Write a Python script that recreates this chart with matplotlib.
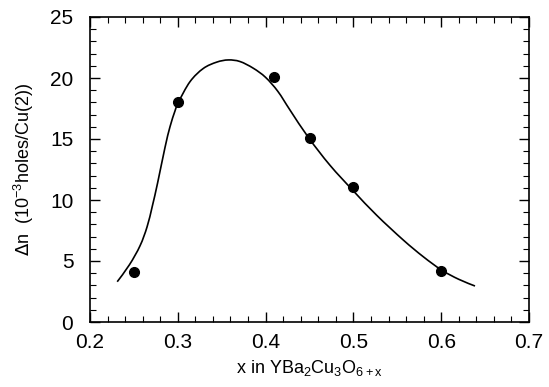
import numpy as np
import matplotlib.pyplot as plt
from matplotlib.path import Path
from matplotlib.patches import PathPatch
from matplotlib.ticker import MultipleLocator

plt.rcParams['font.family'] = ['Liberation Sans', 'DejaVu Sans']

# measured points
x_pts = [0.25, 0.30, 0.41, 0.45, 0.50, 0.60]
dn_pts = [4.1, 18.0, 20.1, 15.1, 11.1, 4.2]

# guide curve
x_fit = [0.231, 0.245, 0.257, 0.265, 0.271, 0.277, 0.2854, 0.2911, 0.2968, 0.3006,
         0.3139, 0.329, 0.3443, 0.3575, 0.3708, 0.386, 0.400, 0.414, 0.428, 0.449,
         0.4733, 0.4999, 0.5265, 0.5568, 0.5796, 0.6006, 0.620, 0.6385]
dn_fit = [3.3, 4.7, 6.25, 7.8, 9.5, 11.4, 14.3, 16.0, 17.3, 18.0,
          19.7, 20.78, 21.3, 21.48, 21.35, 20.8, 20.05, 18.9, 17.35, 15.1,
          12.85, 10.75, 8.75, 6.72, 5.35, 4.25, 3.5, 2.95]


def smooth_path(xs, ys):
    # catmull-rom through the read points, drawn as cubic bezier segments
    p = np.column_stack([xs, ys])
    verts = [p[0]]
    codes = [Path.MOVETO]
    for i in range(len(p) - 1):
        p0 = p[i - 1] if i > 0 else p[i]
        p3 = p[i + 2] if i + 2 < len(p) else p[i + 1]
        c1 = p[i] + (p[i + 1] - p0) / 6
        c2 = p[i + 1] - (p3 - p[i]) / 6
        verts += [c1, c2, p[i + 1]]
        codes += [Path.CURVE4] * 3
    return Path(verts, codes)


fig = plt.figure(figsize=(5.49, 3.87), dpi=100)
ax = fig.add_axes([90 / 549, 1 - 322 / 387, 439 / 549, 305 / 387])

ax.add_patch(PathPatch(smooth_path(x_fit, dn_fit), fill=False, edgecolor='black', lw=1.2))
ax.plot(x_pts, dn_pts, 'o', color='black', ms=7)

ax.set_xlim(0.2, 0.7)
ax.set_ylim(0, 25)
ax.xaxis.set_major_locator(MultipleLocator(0.1))
ax.xaxis.set_minor_locator(MultipleLocator(0.02))
ax.yaxis.set_major_locator(MultipleLocator(5))
ax.yaxis.set_minor_locator(MultipleLocator(1))
ax.tick_params(which='both', direction='in', top=True, right=True, labelsize=15)
ax.tick_params(which='major', length=7, width=1)
ax.tick_params(which='minor', length=4, width=0.8)
ax.tick_params(axis='x', which='major', pad=8)
ax.tick_params(axis='y', which='major', pad=12)
for s in ax.spines.values():
    s.set_linewidth(1.2)

ax.set_xlabel(r'x in YBa$_{\mathregular{2}}$Cu$_{\mathregular{3}}$O$_{\mathregular{6+x}}$', fontsize=13, labelpad=4)
ax.set_ylabel(r'$\Delta$n  (10$^{\mathregular{-3}}$holes/Cu(2))', fontsize=13, labelpad=10)

fig.savefig('out.png', dpi=100)
